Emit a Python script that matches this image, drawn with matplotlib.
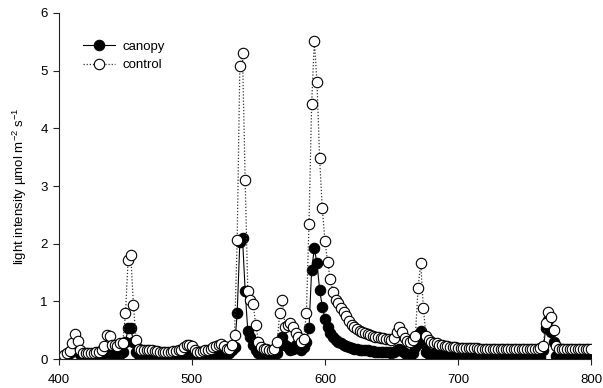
import matplotlib
matplotlib.use("Agg")
import matplotlib.pyplot as plt
import numpy as np

#===============================================================================#
# data (2 nm steps)                                     #
#===============================================================================#

wavelength = list(range(400, 802, 2))

control = [
    0.02, 0.04, 0.07, 0.10, 0.14, 0.28, 0.44, 0.32, 0.15, 0.11,   # 400
    0.10, 0.10, 0.10, 0.11, 0.12, 0.13, 0.15, 0.22, 0.42, 0.40,   # 420
    0.25, 0.24, 0.22, 0.28, 0.28, 0.79, 1.72, 1.80, 0.93, 0.33,   # 440
    0.18, 0.16, 0.15, 0.15, 0.15, 0.15, 0.14, 0.14, 0.13, 0.13,   # 460
    0.13, 0.13, 0.13, 0.14, 0.14, 0.15, 0.16, 0.20, 0.24, 0.25,   # 480
    0.22, 0.16, 0.13, 0.13, 0.14, 0.15, 0.16, 0.18, 0.20, 0.22,   # 500
    0.24, 0.26, 0.22, 0.18, 0.18, 0.25, 0.42, 2.07, 5.08, 5.30,   # 520
    3.10, 1.18, 1.03, 0.95, 0.59, 0.30, 0.20, 0.18, 0.17, 0.16,   # 540
    0.16, 0.17, 0.30, 0.79, 1.02, 0.56, 0.59, 0.62, 0.56, 0.45,   # 560
    0.39, 0.30, 0.35, 0.79, 2.34, 4.43, 5.52, 4.80, 3.48, 2.61,   # 580
    2.05, 1.68, 1.39, 1.17, 1.02, 0.97, 0.88, 0.82, 0.75, 0.66,   # 600
    0.59, 0.55, 0.52, 0.49, 0.47, 0.45, 0.43, 0.42, 0.40, 0.39,   # 620
    0.38, 0.37, 0.36, 0.35, 0.34, 0.33, 0.36, 0.47, 0.55, 0.46,   # 640
    0.36, 0.32, 0.30, 0.33, 0.40, 1.23, 1.67, 0.88, 0.40, 0.33,   # 660
    0.30, 0.28, 0.27, 0.25, 0.24, 0.23, 0.22, 0.21, 0.20, 0.20,   # 680
    0.19, 0.19, 0.19, 0.19, 0.19, 0.19, 0.19, 0.19, 0.18, 0.18,   # 700
    0.18, 0.18, 0.18, 0.18, 0.18, 0.18, 0.18, 0.18, 0.18, 0.18,   # 720
    0.18, 0.18, 0.18, 0.18, 0.18, 0.18, 0.18, 0.18, 0.18, 0.18,   # 740
    0.18, 0.19, 0.22, 0.63, 0.82, 0.72, 0.50, 0.22, 0.18, 0.18,   # 760
    0.18, 0.18, 0.18, 0.18, 0.18, 0.18, 0.18, 0.18, 0.18, 0.18,   # 780
    0.18,                                                         # 800
]

canopy = [
    0.02, 0.03, 0.05, 0.07, 0.10, 0.15, 0.18, 0.15, 0.08, 0.05,   # 400
    0.04, 0.04, 0.04, 0.04, 0.05, 0.05, 0.07, 0.10, 0.12, 0.10,   # 420
    0.08, 0.08, 0.08, 0.09, 0.12, 0.30, 0.53, 0.53, 0.30, 0.12,   # 440
    0.07, 0.06, 0.06, 0.06, 0.06, 0.06, 0.06, 0.06, 0.06, 0.06,   # 460
    0.06, 0.06, 0.06, 0.06, 0.06, 0.07, 0.07, 0.08, 0.09, 0.09,   # 480
    0.08, 0.07, 0.06, 0.06, 0.06, 0.07, 0.07, 0.08, 0.08, 0.09,   # 500
    0.09, 0.10, 0.09, 0.08, 0.10, 0.15, 0.20, 0.80, 2.03, 2.10,   # 520
    1.18, 0.48, 0.39, 0.24, 0.15, 0.10, 0.08, 0.07, 0.07, 0.07,   # 540
    0.07, 0.08, 0.10, 0.25, 0.39, 0.25, 0.21, 0.15, 0.18, 0.25,   # 560
    0.21, 0.15, 0.21, 0.30, 0.53, 1.55, 1.92, 1.66, 1.20, 0.91,   # 580
    0.70, 0.56, 0.45, 0.38, 0.33, 0.30, 0.27, 0.24, 0.22, 0.20,   # 600
    0.19, 0.18, 0.17, 0.16, 0.16, 0.15, 0.15, 0.14, 0.14, 0.13,   # 620
    0.13, 0.13, 0.12, 0.12, 0.12, 0.11, 0.12, 0.16, 0.18, 0.14,   # 640
    0.10, 0.07, 0.06, 0.10, 0.20, 0.30, 0.49, 0.28, 0.12, 0.09,   # 660
    0.08, 0.08, 0.07, 0.07, 0.06, 0.06, 0.06, 0.05, 0.05, 0.05,   # 680
    0.05, 0.05, 0.05, 0.04, 0.04, 0.04, 0.04, 0.04, 0.04, 0.04,   # 700
    0.04, 0.04, 0.04, 0.04, 0.04, 0.03, 0.03, 0.03, 0.03, 0.03,   # 720
    0.03, 0.03, 0.03, 0.03, 0.03, 0.03, 0.03, 0.03, 0.03, 0.03,   # 740
    0.03, 0.04, 0.15, 0.53, 0.68, 0.47, 0.30, 0.05, 0.02, 0.02,   # 760
    0.02, 0.02, 0.02, 0.02, 0.02, 0.02, 0.02, 0.02, 0.02, 0.02,   # 780
    0.02,                                                         # 800
]

xticks = [400, 500, 600, 700, 800]
yticks = [0, 1, 2, 3, 4, 5, 6]

#===============================================================================#
# style                                                                         #
#===============================================================================#

plt.rcParams['font.family'] = ['Liberation Sans', 'DejaVu Sans']
plt.rcParams['mathtext.fontset'] = 'custom'
plt.rcParams['mathtext.rm'] = 'Liberation Sans'
plt.rcParams['mathtext.it'] = 'Liberation Sans:italic'

fontsize = 9.5
axcolor = '#222222'

#===============================================================================#
# plot                                                                          #
#===============================================================================#

fig = plt.figure( figsize=(6.03, 3.88), dpi=100 )
ax = fig.add_axes( [0.0978, 0.0747, 0.8822, 0.8918] )

ax.plot( wavelength, canopy, color='black', lw=0.8, ls='-', marker='o',
         markersize=7.5, markerfacecolor='black', markeredgecolor='black',
         markeredgewidth=0.8, label='canopy' )
ax.plot( wavelength, control, color='#333333', lw=0.9, ls=(0, (1, 1.5)), marker='o',
         markersize=7.5, markerfacecolor='white', markeredgecolor='black',
         markeredgewidth=0.8, label='control' )

ax.set_xlim( 400, 800 )
ax.set_ylim( 0, 6 )
ax.set_xticks( xticks )
ax.set_yticks( yticks )
ax.tick_params( direction='out', length=4, width=0.8, color=axcolor,
                labelsize=fontsize, pad=4 )
ax.tick_params( axis='x', pad=7 )

for side in ['top', 'right']:
    ax.spines[side].set_visible( False )
for side in ['left', 'bottom']:
    ax.spines[side].set_color( axcolor )
    ax.spines[side].set_linewidth( 0.8 )

ax.set_ylabel( r"light intensity µmol m$^{-2}$ s$^{-1}$", fontsize=fontsize, labelpad=8 )

ax.legend( loc='upper left', bbox_to_anchor=(0.035, 0.935), frameon=False,
           fontsize=fontsize, handlelength=2.4, handletextpad=0.6,
           labelspacing=0.45, borderaxespad=0 )

fig.savefig( 'out.png', dpi=100 )
plt.close( fig )
